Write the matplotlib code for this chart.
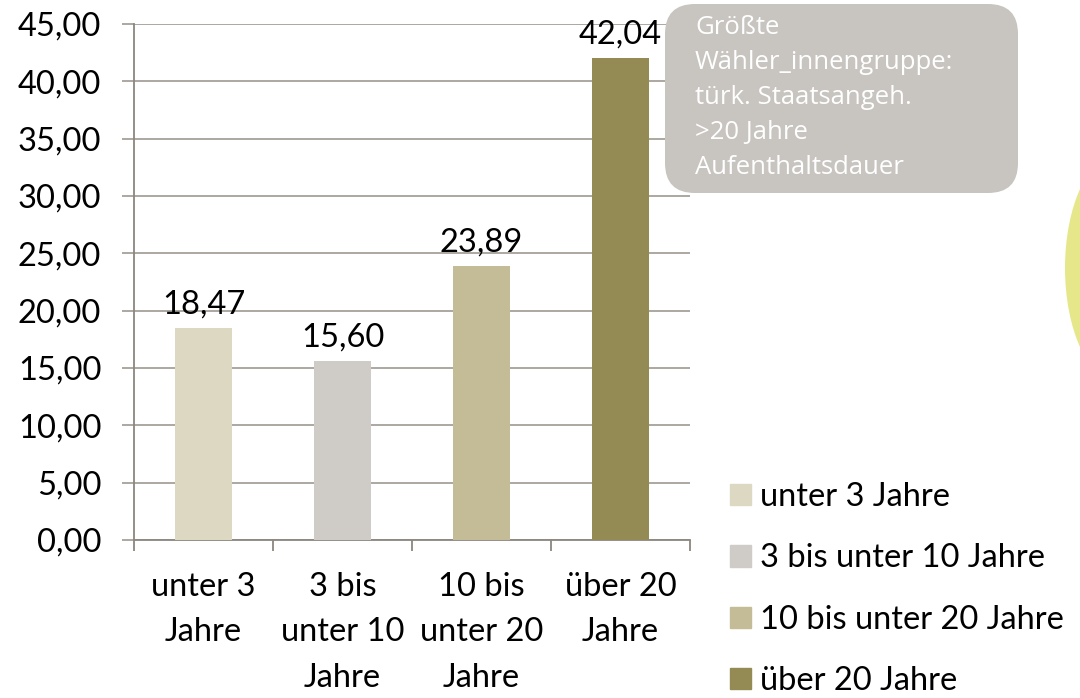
import matplotlib
matplotlib.use("Agg")
import matplotlib.pyplot as plt
from matplotlib.patches import FancyBboxPatch, Ellipse
from matplotlib.ticker import FuncFormatter
from matplotlib.transforms import Affine2D

categories = ["unter 3\nJahre", "3 bis\nunter 10\nJahre", "10 bis\nunter 20\nJahre", "über 20\nJahre"]
legend_labels = ["unter 3 Jahre", "3 bis unter 10 Jahre", "10 bis unter 20 Jahre", "über 20 Jahre"]
values = [18.47, 15.60, 23.89, 42.04]
colors = ["#ddd8c2", "#cfcbc7", "#c4bc96", "#948a54"]
yticks = [0, 5, 10, 15, 20, 25, 30, 35, 40, 45]
callout_text = "Größte\nWähler_innengruppe:\ntürk. Staatsangeh.\n>20 Jahre\nAufenthaltsdauer"

W, H = 1080, 698
fig = plt.figure(figsize=(W / 100, H / 100), dpi=100)
plt.rcParams['font.family'] = ['Lato', 'DejaVu Sans']

def fx(px):
    return px / W
def fy(py):
    return 1 - py / H

# pixel transform with origin at top-left
pix = Affine2D().scale(1, -1).translate(0, H) + fig.dpi_scale_trans.frozen().inverted() + fig.dpi_scale_trans

FS = 23.5

ax = fig.add_axes([fx(134), fy(540), fx(690) - fx(134), fy(24) - fy(540)])
x = list(range(len(values)))
bars = ax.bar(x, values, width=0.41, color=colors, zorder=3)

ax.set_xlim(-0.5, len(values) - 0.5)
ax.set_ylim(0, 45)
ax.set_yticks(yticks)
ax.yaxis.set_major_formatter(FuncFormatter(lambda v, p: f"{v:.2f}".replace(".", ",")))
ax.grid(axis="y", color="#a6a09a", linewidth=1.3, zorder=0)
ax.tick_params(axis="y", length=8.5, color="#a6a09a", width=1.3, labelsize=FS, pad=15)
ax.set_xticks([i - 0.5 for i in range(len(values) + 1)], minor=False)
ax.set_xticklabels([""] * (len(values) + 1))
ax.set_xticks(x, minor=True)
ax.set_xticklabels(categories, minor=True, fontsize=FS, linespacing=1.64)
ax.tick_params(axis="x", which="major", length=8, color="#8c8680", width=1.3)
ax.tick_params(axis="x", which="minor", length=0, pad=23)
for s in ["top", "right"]:
    ax.spines[s].set_visible(False)
for s in ["left", "bottom"]:
    ax.spines[s].set_color("#8c8680")
    ax.spines[s].set_linewidth(1.3)

for b, v in zip(bars, values):
    ax.annotate(f"{v:.2f}".replace(".", ","), (b.get_x() + b.get_width() / 2, v),
                xytext=(0, 6), textcoords="offset points", ha="center", va="bottom",
                fontsize=FS, color="black", zorder=5)

# legend
handles = [plt.Rectangle((0, 0), 1, 1, color=c) for c in colors]
fig.legend(handles, legend_labels, loc="upper left", bbox_to_anchor=(fx(730), fy(482)),
           frameon=False, fontsize=FS, handlelength=0.63, handleheight=0.63,
           handletextpad=0.3, labelspacing=0.96, borderaxespad=0, borderpad=0)

# callout
box = FancyBboxPatch((665, 4), 353, 189, boxstyle="round,pad=0,rounding_size=30",
                     transform=pix, facecolor="#c8c4c0", edgecolor="none", zorder=10)
fig.add_artist(box)
fig.text(fx(695), fy(15), callout_text, ha="left", va="top", color="white",
         fontsize=18.5, family=["Open Sans", "DejaVu Sans"], linespacing=1.52, zorder=11)

# yellow shape at right edge
ell = Ellipse((1120, 268), 110, 230, transform=pix, facecolor="#e6e78a", edgecolor="none")
fig.add_artist(ell)

fig.savefig("out.png", dpi=100)
